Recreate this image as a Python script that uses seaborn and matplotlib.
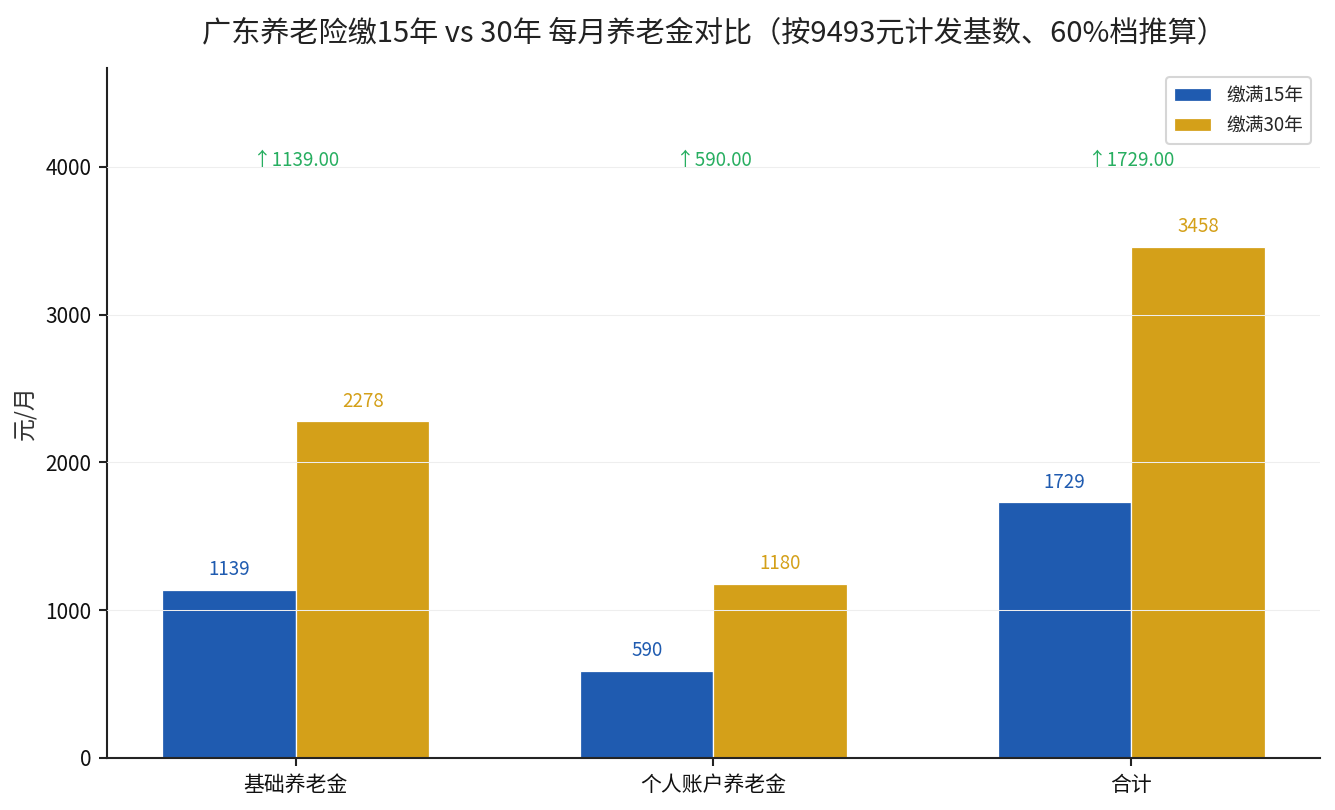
import matplotlib
matplotlib.use("Agg")
import matplotlib.pyplot as plt
import seaborn as sns
import pandas as pd

categories = ["基础养老金", "个人账户养老金", "合计"]
series_names = ["缴满15年", "缴满30年"]
values_15 = [1139, 590, 1729]
values_30 = [2278, 1180, 3458]
diff_labels = ["↑1139.00", "↑590.00", "↑1729.00"]
title = "广东养老险缴15年 vs 30年 每月养老金对比（按9493元计发基数、60%档推算）"
ylabel = "元/月"
colors = ["#1F5BB0", "#D4A019"]
green = "#27AE60"

sns.set_theme(style="white")
plt.rcParams["font.family"] = ["Noto Sans CJK SC", "DejaVu Sans"]
plt.rcParams["axes.unicode_minus"] = False

df = pd.DataFrame({
    "类别": categories * 2,
    "方案": [series_names[0]] * 3 + [series_names[1]] * 3,
    "金额": values_15 + values_30,
})

fig = plt.figure(figsize=(8.9, 5.4), dpi=150)
ax = fig.add_axes([0.0801, 0.0642, 0.9087, 0.8518])

sns.barplot(data=df, x="类别", y="金额", hue="方案", order=categories,
            hue_order=series_names, palette=colors, width=0.64, gap=0,
            edgecolor="white", linewidth=0.6, saturation=1, ax=ax,
            errorbar=None)

ymax_val = max(values_30)
offset = ymax_val * 0.019
for cont, col in zip(ax.containers, colors):
    for rect in cont:
        h = rect.get_height()
        ax.text(rect.get_x() + rect.get_width() / 2, h + offset, f"{int(round(h))}",
                ha="center", va="bottom", fontsize=9, color=col)

for i, lab in enumerate(diff_labels):
    ax.text(i, ymax_val * 1.148, lab, ha="center", va="bottom", fontsize=9, color=green)

ax.set_xlim(-0.452, 2.452)
ax.set_ylim(0, ymax_val * 1.35)
ax.set_yticks([0, 1000, 2000, 3000, 4000])
ax.yaxis.grid(True, color="#eeeeee", linewidth=0.5)
ax.set_axisbelow(False)
ax.xaxis.grid(False)

for s in ["top", "right"]:
    ax.spines[s].set_visible(False)
for s in ["left", "bottom"]:
    ax.spines[s].set_color("#222222")
    ax.spines[s].set_linewidth(1.0)

ax.tick_params(axis="both", which="both", length=4, width=1, color="#222222",
               labelsize=10, labelcolor="#111111", bottom=True, left=True)
ax.set_xlabel("")
ax.set_ylabel(ylabel, fontsize=11, color="#333333")
ax.set_title(title, fontsize=14, color="#222222", pad=13)

leg = ax.legend(loc="upper right", fontsize=9, frameon=True, title=None)
leg.get_frame().set_edgecolor("#cccccc")

fig.savefig("out.png", dpi=150)
